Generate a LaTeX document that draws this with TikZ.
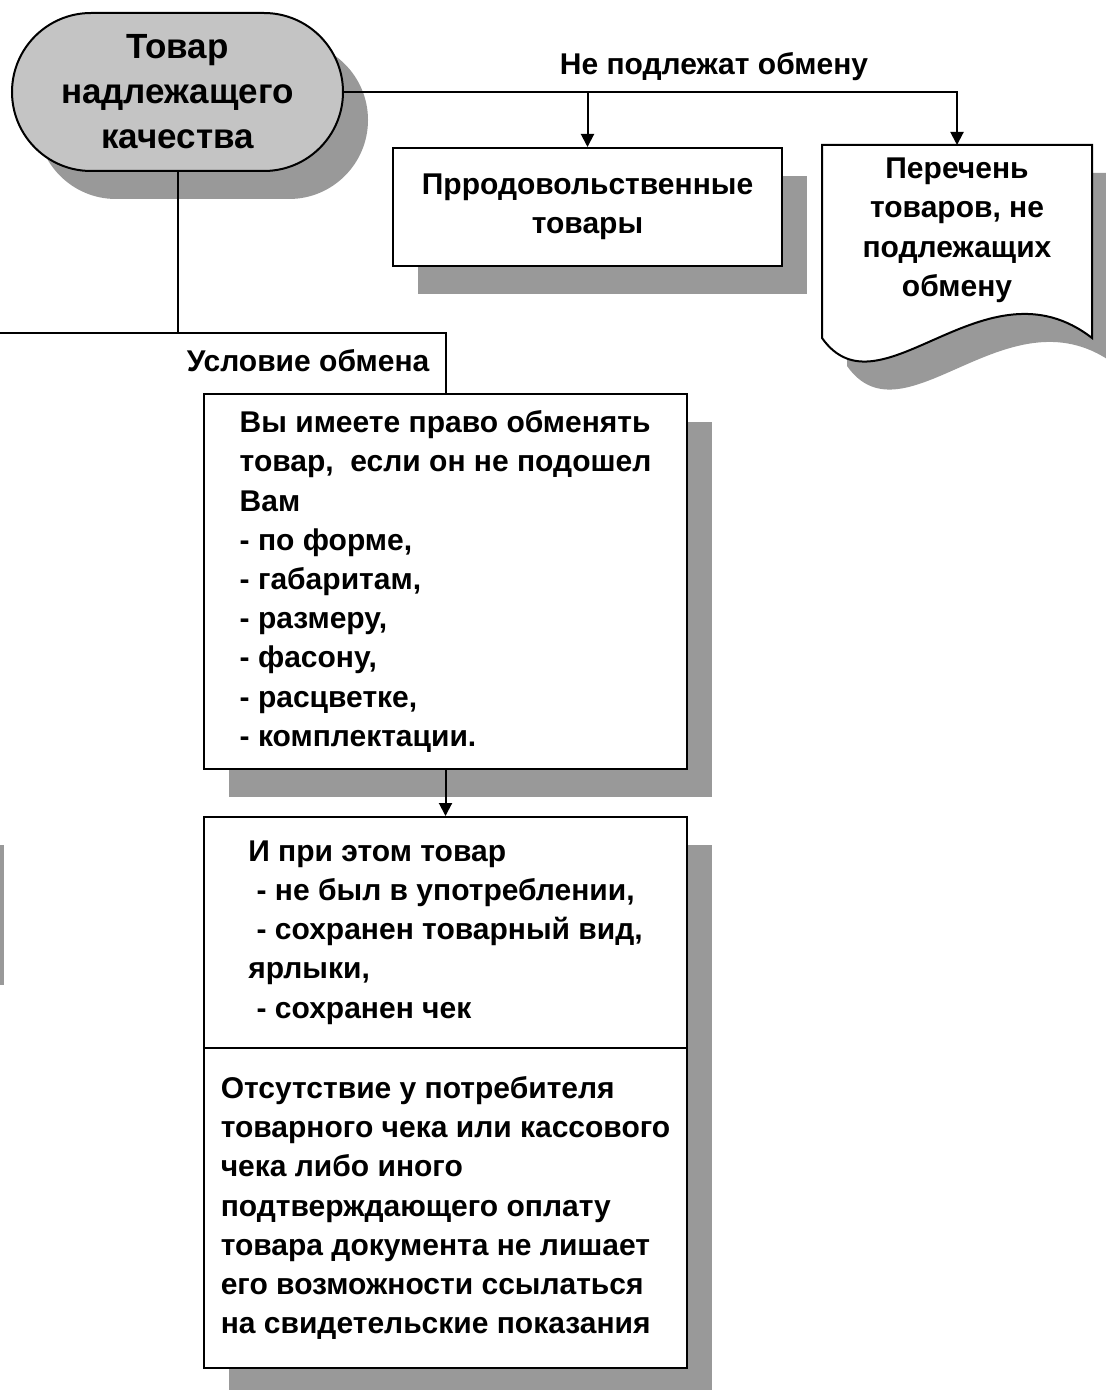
\documentclass[tikz,border=0pt]{standalone}
\usepackage{fontspec}
\setmainfont{Liberation Sans}
\usepackage{tikz}
\usetikzlibrary{arrows.meta,positioning,shapes.misc,shadows}
\definecolor{shadowgray}{HTML}{999999}
\definecolor{pillgray}{HTML}{C4C4C4}
\newcommand{\docoutline}{(822,145) -- (1092,145) -- (1092,338) .. controls (985,255) and (880,420) .. (822,338) -- cycle}

\begin{document}
\begin{tikzpicture}[x=0.5pt,y=-0.5pt,line width=1pt,
box/.style={draw,fill=white,inner sep=0pt,minimum width=241.5pt,
  drop shadow={shadow xshift=12.5pt,shadow yshift=-14pt,fill=shadowgray,opacity=1}},
txt/.style={font=\bfseries\fontsize{15}{19.6}\selectfont},
arr/.style={-{Triangle[width=6.5pt,length=6.5pt]}}]
\useasboundingbox[fill=white] (0,0) rectangle (1105,1390);
\node[box,rounded rectangle,fill=pillgray,minimum width=165.5pt,minimum height=79pt,align=center,
  font=\bfseries\fontsize{17.5}{22.5}\selectfont] (goods) at (177.5,92) {Товар\\надлежащего\\качества};
\node[box,txt,minimum width=194.5pt,minimum height=59pt,align=center] (food) at (587.5,207) {Прродовольственные\\товары};
\fill[shadowgray,shift={(25,28)}] \docoutline;
\draw[fill=white] \docoutline;
\node[txt,anchor=north,minimum width=135pt,inner ysep=6pt,align=center] (list) at (957,145) {Перечень\\товаров, не\\подлежащих\\обмену};
\node[txt] (noex) at (714,67) {Не подлежат обмену};
\node[txt,anchor=east] (terms) at (437,361) {Условие обмена};
\node[box,txt,minimum height=187.5pt,align=left] (cond) at (445.5,581.5) {Вы имеете право обменять\\товар,\ \ если он не подошел\\Вам\\- по форме,\\- габаритам,\\- размеру,\\- фасону,\\- расцветке,\\- комплектации.};
\node[box,txt,below=23pt of cond,minimum height=115.5pt,align=left] (keep) {И при этом товар\\\ - не был в употреблении,\\\ - сохранен товарный вид,\\ярлыки,\\\ - сохранен чек};
\node[box,txt,below=-1pt of keep,minimum height=160pt,align=left] (receipt) {Отсутствие у потребителя\\товарного чека или кассового\\чека либо иного\\подтверждающего оплату\\товара документа не лишает\\его возможности ссылаться\\на свидетельские показания};
\fill[shadowgray] (0,845) rectangle (4,985);
\coordinate (fork) at (177.5,333);
\coordinate (edge) at (0,333);
\draw[arr] (goods.east) -| (list.north);
\draw[arr] (goods.east -| food.north) -- (food.north);
\draw (goods.south) -- (fork);
\draw (edge) -| (cond.north);
\draw[arr] (cond) -- (keep);
\end{tikzpicture}
\end{document}
